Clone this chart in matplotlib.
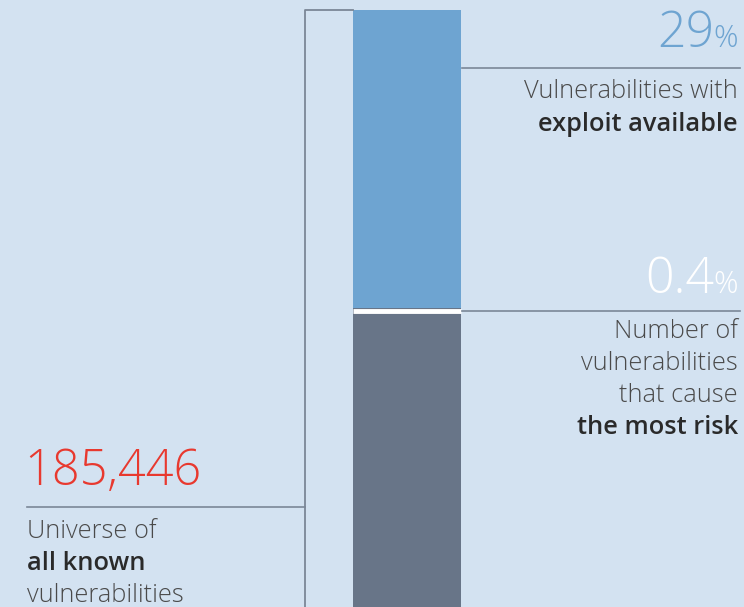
import matplotlib.pyplot as plt

# ------------------------
# Data
# ------------------------
headline_values = ["185,446", "29", "0.4"]
headline_suffix = ["", "%", "%"]
captions = [
    [("Universe of", "normal"), ("all known", "bold"), ("vulnerabilities", "normal")],
    [("Vulnerabilities with", "normal"), ("exploit available", "bold")],
    [("Number of", "normal"), ("vulnerabilities", "normal"),
     ("that cause", "normal"), ("the most risk", "bold")],
]
# stacked bar, top segment first (drawing units)
segment_heights = [298, 299]
segment_colors = ["#6ea4d1", "#687588"]

# ------------------------
# Style
# ------------------------
bg = "#d3e2f1"
rule = "#7b8797"
dark = "#2a2a2a"
body = "#4a4a4a"
num_font = ["Open Sans", "DejaVu Sans"]
body_font = ["Open Sans", "DejaVu Sans"]

fig = plt.figure(figsize=(7.44, 6.07), dpi=100, facecolor=bg)
ax = fig.add_axes([0, 0, 1, 1])
ax.set_facecolor(bg)
ax.set_xlim(0, 744)
ax.set_ylim(607, 0)
ax.axis("off")

# ------------------------
# Stacked bar
# ------------------------
top = 10
for h, c in zip(segment_heights, segment_colors):
    ax.bar(407, h, bottom=top, width=108, color=c, edgecolor="none")
    top += h
# white divider between segments
ax.plot([353, 461], [310.5, 310.5], color="white", lw=3.5, solid_capstyle="butt")

# bracket on the left of the bar
ax.plot([353, 305, 305], [10, 10, 607], color=rule, lw=1.3)

# rules
ax.plot([27, 305], [507, 507], color=rule, lw=1.2)
ax.plot([462, 740], [68, 68], color=rule, lw=1.2)
ax.plot([462, 740], [311, 311], color=rule, lw=1.2)

# ------------------------
# Headline numbers
# ------------------------
ax.text(24, 485, headline_values[0], color="#e8392f", fontsize=35,
        fontweight="light", family=num_font, ha="left", va="baseline")

fig.canvas.draw()
# numbers at right (percent sign smaller)
for y, val, suf, col in [(47, headline_values[1], headline_suffix[1], "#6ea4d1"),
                         (293, headline_values[2], headline_suffix[2], "white")]:
    pct = ax.text(738, y, suf, color=col, fontsize=22, fontweight="light",
                  family=num_font, ha="right", va="baseline")
    fig.canvas.draw()
    bb = pct.get_window_extent()
    x_data = ax.transData.inverted().transform((bb.x0, 0))[0]
    ax.text(x_data + 1, y, val, color=col, fontsize=36, fontweight="light",
            family=num_font, ha="right", va="baseline")


# ------------------------
# Captions
# ------------------------
def caption(lines, x, y0, ha):
    for i, (txt, w) in enumerate(lines):
        ax.text(x, y0 + i * 32.3, txt, fontsize=18.3, family=body_font,
                fontweight="semibold" if w == "bold" else "light",
                color=dark if w == "bold" else body,
                ha=ha, va="center")


caption(captions[0], 27, 531, "left")
caption(captions[1], 738, 92, "right")
caption(captions[2], 738, 331, "right")

fig.savefig("out.png", dpi=100, facecolor=bg)
